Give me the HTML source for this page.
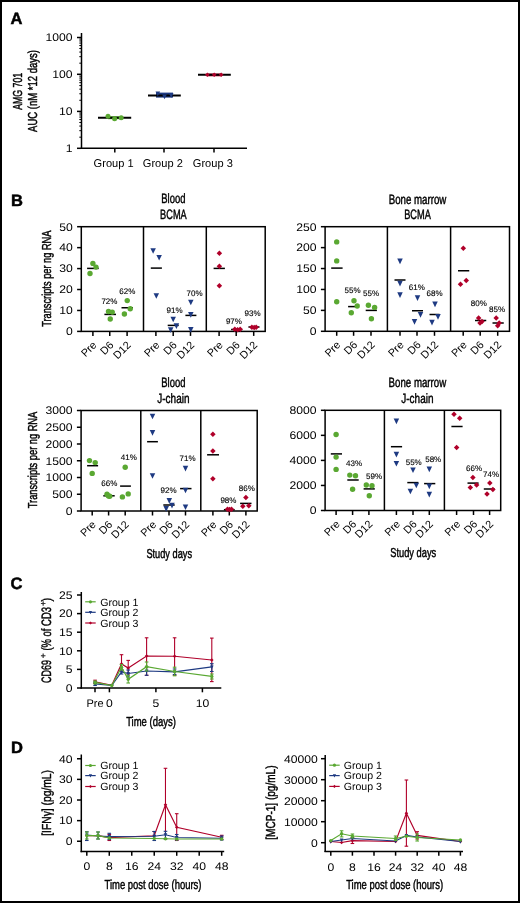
<!DOCTYPE html>
<html><head><meta charset="utf-8"><style>
html,body{margin:0;padding:0;background:#fff;}
svg{display:block;will-change:transform;}
text{font-family:"Liberation Sans", sans-serif;text-rendering:geometricPrecision;}
</style></head><body>
<svg width="520" height="903" viewBox="0 0 520 903" font-family='"Liberation Sans", sans-serif'>
<rect x="1" y="1" width="518" height="901" fill="#fff" stroke="#000" stroke-width="2"/>
<text x="10.6" y="24.2" font-size="16.5" stroke="#000" stroke-width="0.5" font-weight="bold" fill="#000">A</text>
<text x="10.9" y="205.9" font-size="16.5" stroke="#000" stroke-width="0.5" font-weight="bold" fill="#000">B</text>
<text x="10.6" y="588.8" font-size="16.5" stroke="#000" stroke-width="0.5" font-weight="bold" fill="#000">C</text>
<text x="10.9" y="752.5" font-size="16.5" stroke="#000" stroke-width="0.5" font-weight="bold" fill="#000">D</text>
<line x1="81.5" y1="33" x2="81.5" y2="149" stroke="#000" stroke-width="1.5"/>
<line x1="80.75" y1="148.3" x2="247" y2="148.3" stroke="#000" stroke-width="1.5"/>
<line x1="77" y1="37.5" x2="81.5" y2="37.5" stroke="#000" stroke-width="1.5"/>
<line x1="77" y1="74.3" x2="81.5" y2="74.3" stroke="#000" stroke-width="1.5"/>
<line x1="77" y1="111.4" x2="81.5" y2="111.4" stroke="#000" stroke-width="1.5"/>
<line x1="77" y1="148.3" x2="81.5" y2="148.3" stroke="#000" stroke-width="1.5"/>
<line x1="79.3" y1="137.18" x2="81.5" y2="137.18" stroke="#000" stroke-width="1"/>
<line x1="79.3" y1="130.68" x2="81.5" y2="130.68" stroke="#000" stroke-width="1"/>
<line x1="79.3" y1="126.06" x2="81.5" y2="126.06" stroke="#000" stroke-width="1"/>
<line x1="79.3" y1="122.48" x2="81.5" y2="122.48" stroke="#000" stroke-width="1"/>
<line x1="79.3" y1="119.56" x2="81.5" y2="119.56" stroke="#000" stroke-width="1"/>
<line x1="79.3" y1="117.09" x2="81.5" y2="117.09" stroke="#000" stroke-width="1"/>
<line x1="79.3" y1="114.95" x2="81.5" y2="114.95" stroke="#000" stroke-width="1"/>
<line x1="79.3" y1="113.06" x2="81.5" y2="113.06" stroke="#000" stroke-width="1"/>
<line x1="79.3" y1="100.28" x2="81.5" y2="100.28" stroke="#000" stroke-width="1"/>
<line x1="79.3" y1="93.78" x2="81.5" y2="93.78" stroke="#000" stroke-width="1"/>
<line x1="79.3" y1="89.16" x2="81.5" y2="89.16" stroke="#000" stroke-width="1"/>
<line x1="79.3" y1="85.58" x2="81.5" y2="85.58" stroke="#000" stroke-width="1"/>
<line x1="79.3" y1="82.66" x2="81.5" y2="82.66" stroke="#000" stroke-width="1"/>
<line x1="79.3" y1="80.19" x2="81.5" y2="80.19" stroke="#000" stroke-width="1"/>
<line x1="79.3" y1="78.05" x2="81.5" y2="78.05" stroke="#000" stroke-width="1"/>
<line x1="79.3" y1="76.16" x2="81.5" y2="76.16" stroke="#000" stroke-width="1"/>
<line x1="79.3" y1="63.18" x2="81.5" y2="63.18" stroke="#000" stroke-width="1"/>
<line x1="79.3" y1="56.68" x2="81.5" y2="56.68" stroke="#000" stroke-width="1"/>
<line x1="79.3" y1="52.06" x2="81.5" y2="52.06" stroke="#000" stroke-width="1"/>
<line x1="79.3" y1="48.48" x2="81.5" y2="48.48" stroke="#000" stroke-width="1"/>
<line x1="79.3" y1="45.56" x2="81.5" y2="45.56" stroke="#000" stroke-width="1"/>
<line x1="79.3" y1="43.09" x2="81.5" y2="43.09" stroke="#000" stroke-width="1"/>
<line x1="79.3" y1="40.95" x2="81.5" y2="40.95" stroke="#000" stroke-width="1"/>
<line x1="79.3" y1="39.06" x2="81.5" y2="39.06" stroke="#000" stroke-width="1"/>
<text transform="translate(72.5,41.3) scale(1.105,1)" font-size="11" text-anchor="end" fill="#000">1000</text>
<text transform="translate(72.5,78.1) scale(1.105,1)" font-size="11" text-anchor="end" fill="#000">100</text>
<text transform="translate(72.5,115.2) scale(1.105,1)" font-size="11" text-anchor="end" fill="#000">10</text>
<text transform="translate(72.5,152.1) scale(1.105,1)" font-size="11" text-anchor="end" fill="#000">1</text>
<line x1="114.8" y1="148.3" x2="114.8" y2="152.5" stroke="#000" stroke-width="1.5"/>
<text x="113.6" y="166.7" font-size="11.3" text-anchor="middle" textLength="40" lengthAdjust="spacingAndGlyphs" fill="#000">Group 1</text>
<line x1="164" y1="148.3" x2="164" y2="152.5" stroke="#000" stroke-width="1.5"/>
<text x="162.8" y="166.7" font-size="11.3" text-anchor="middle" textLength="40" lengthAdjust="spacingAndGlyphs" fill="#000">Group 2</text>
<line x1="214" y1="148.3" x2="214" y2="152.5" stroke="#000" stroke-width="1.5"/>
<text x="212.8" y="166.7" font-size="11.3" text-anchor="middle" textLength="40" lengthAdjust="spacingAndGlyphs" fill="#000">Group 3</text>
<rect x="108" y="116.2" width="13.2" height="3" fill="#5aa832"/>
<line x1="98" y1="117.7" x2="131.2" y2="117.7" stroke="#000" stroke-width="2"/>
<circle cx="108" cy="116.2" r="2.5" fill="#5aa832"/>
<circle cx="114.6" cy="118.7" r="2.5" fill="#5aa832"/>
<circle cx="121.2" cy="117.7" r="2.5" fill="#5aa832"/>
<rect x="156" y="92.6" width="17" height="5" fill="#1e3a82"/>
<line x1="148" y1="95.4" x2="180.8" y2="95.4" stroke="#000" stroke-width="2"/>
<path d="M155.5,91.46H160.1L157.8,96.17Z" fill="#1e3a82"/>
<path d="M162.2,94.56H166.8L164.5,99.28Z" fill="#1e3a82"/>
<path d="M168.9,93.36H173.5L171.2,98.08Z" fill="#1e3a82"/>
<rect x="207.3" y="73.5" width="14" height="2.8" fill="#b0002a"/>
<line x1="198" y1="74.8" x2="230.8" y2="74.8" stroke="#000" stroke-width="2"/>
<path d="M207.3,72.5L209.6,74.8L207.3,77.1L205,74.8Z" fill="#b0002a"/>
<path d="M214.2,72.5L216.5,74.8L214.2,77.1L211.9,74.8Z" fill="#b0002a"/>
<path d="M221.2,72.5L223.5,74.8L221.2,77.1L218.9,74.8Z" fill="#b0002a"/>
<text transform="translate(21.6,91.3) rotate(-90)" font-size="13" text-anchor="middle" stroke="#000" stroke-width="0.45" textLength="37" lengthAdjust="spacingAndGlyphs" fill="#000">AMG 701</text>
<text transform="translate(37.1,91) rotate(-90)" font-size="13" text-anchor="middle" stroke="#000" stroke-width="0.45" textLength="81.9" lengthAdjust="spacingAndGlyphs" fill="#000">AUC (nM *12 days)</text>
<rect x="81.3" y="226.7" width="183.9" height="104.7" fill="none" stroke="#000" stroke-width="1.5"/>
<line x1="143.5" y1="226.7" x2="143.5" y2="331.4" stroke="#000" stroke-width="1.5"/>
<line x1="206.3" y1="226.7" x2="206.3" y2="331.4" stroke="#000" stroke-width="1.5"/>
<line x1="77.1" y1="226.7" x2="81.3" y2="226.7" stroke="#000" stroke-width="1.5"/>
<line x1="77.1" y1="247.64" x2="81.3" y2="247.64" stroke="#000" stroke-width="1.5"/>
<line x1="77.1" y1="268.58" x2="81.3" y2="268.58" stroke="#000" stroke-width="1.5"/>
<line x1="77.1" y1="289.52" x2="81.3" y2="289.52" stroke="#000" stroke-width="1.5"/>
<line x1="77.1" y1="310.46" x2="81.3" y2="310.46" stroke="#000" stroke-width="1.5"/>
<line x1="77.1" y1="331.4" x2="81.3" y2="331.4" stroke="#000" stroke-width="1.5"/>
<text transform="translate(72.7,230.5) scale(1.105,1)" font-size="11" text-anchor="end" fill="#000">50</text>
<text transform="translate(72.7,251.44) scale(1.105,1)" font-size="11" text-anchor="end" fill="#000">40</text>
<text transform="translate(72.7,272.38) scale(1.105,1)" font-size="11" text-anchor="end" fill="#000">30</text>
<text transform="translate(72.7,293.32) scale(1.105,1)" font-size="11" text-anchor="end" fill="#000">20</text>
<text transform="translate(72.7,314.26) scale(1.105,1)" font-size="11" text-anchor="end" fill="#000">10</text>
<text transform="translate(72.7,335.2) scale(1.105,1)" font-size="11" text-anchor="end" fill="#000">0</text>
<line x1="92.9" y1="331.4" x2="92.9" y2="335.9" stroke="#000" stroke-width="1.5"/>
<text transform="translate(97.3,345.7) rotate(-45)" font-size="10.8" text-anchor="end" fill="#000">Pre</text>
<line x1="109.75" y1="331.4" x2="109.75" y2="335.9" stroke="#000" stroke-width="1.5"/>
<text transform="translate(114.15,345.7) rotate(-45)" font-size="10.8" text-anchor="end" fill="#000">D6</text>
<line x1="127.1" y1="331.4" x2="127.1" y2="335.9" stroke="#000" stroke-width="1.5"/>
<text transform="translate(131.5,345.7) rotate(-45)" font-size="10.8" text-anchor="end" fill="#000">D12</text>
<line x1="155.9" y1="331.4" x2="155.9" y2="335.9" stroke="#000" stroke-width="1.5"/>
<text transform="translate(160.3,345.7) rotate(-45)" font-size="10.8" text-anchor="end" fill="#000">Pre</text>
<line x1="173.2" y1="331.4" x2="173.2" y2="335.9" stroke="#000" stroke-width="1.5"/>
<text transform="translate(177.6,345.7) rotate(-45)" font-size="10.8" text-anchor="end" fill="#000">D6</text>
<line x1="190.5" y1="331.4" x2="190.5" y2="335.9" stroke="#000" stroke-width="1.5"/>
<text transform="translate(194.9,345.7) rotate(-45)" font-size="10.8" text-anchor="end" fill="#000">D12</text>
<line x1="219.1" y1="331.4" x2="219.1" y2="335.9" stroke="#000" stroke-width="1.5"/>
<text transform="translate(223.5,345.7) rotate(-45)" font-size="10.8" text-anchor="end" fill="#000">Pre</text>
<line x1="236.2" y1="331.4" x2="236.2" y2="335.9" stroke="#000" stroke-width="1.5"/>
<text transform="translate(240.6,345.7) rotate(-45)" font-size="10.8" text-anchor="end" fill="#000">D6</text>
<line x1="253.7" y1="331.4" x2="253.7" y2="335.9" stroke="#000" stroke-width="1.5"/>
<text transform="translate(258.1,345.7) rotate(-45)" font-size="10.8" text-anchor="end" fill="#000">D12</text>
<line x1="87.1" y1="268.4" x2="98.7" y2="268.4" stroke="#000" stroke-width="1.5"/>
<circle cx="92.9" cy="263.4" r="2.7" fill="#5aa832"/>
<circle cx="96" cy="267.1" r="2.7" fill="#5aa832"/>
<circle cx="90" cy="273.5" r="2.7" fill="#5aa832"/>
<line x1="104.4" y1="314.4" x2="116" y2="314.4" stroke="#000" stroke-width="1.5"/>
<circle cx="108.5" cy="311.5" r="2.7" fill="#5aa832"/>
<circle cx="112.25" cy="312.1" r="2.7" fill="#5aa832"/>
<circle cx="110.25" cy="319" r="2.7" fill="#5aa832"/>
<line x1="121.5" y1="307.75" x2="133" y2="307.75" stroke="#000" stroke-width="1.5"/>
<circle cx="127.25" cy="300.6" r="2.7" fill="#5aa832"/>
<circle cx="130.25" cy="308.75" r="2.7" fill="#5aa832"/>
<circle cx="124.4" cy="314" r="2.7" fill="#5aa832"/>
<line x1="150.8" y1="268.1" x2="161.9" y2="268.1" stroke="#000" stroke-width="1.5"/>
<path d="M150.35,248.2H155.85L153.1,253.84Z" fill="#1e3a82"/>
<path d="M156.35,254.9H161.85L159.1,260.54Z" fill="#1e3a82"/>
<path d="M153.55,293.2H159.05L156.3,298.84Z" fill="#1e3a82"/>
<line x1="167.7" y1="325.4" x2="178.7" y2="325.4" stroke="#000" stroke-width="1.5"/>
<path d="M170.45,316.7H175.95L173.2,322.34Z" fill="#1e3a82"/>
<path d="M173.65,323.3H179.15L176.4,328.94Z" fill="#1e3a82"/>
<path d="M167.95,327.3H173.45L170.7,332.94Z" fill="#1e3a82"/>
<line x1="185.4" y1="315.4" x2="196.4" y2="315.4" stroke="#000" stroke-width="1.5"/>
<path d="M188.05,299.7H193.55L190.8,305.34Z" fill="#1e3a82"/>
<path d="M188.05,312.1H193.55L190.8,317.74Z" fill="#1e3a82"/>
<path d="M188.05,327.1H193.55L190.8,332.74Z" fill="#1e3a82"/>
<line x1="213.6" y1="268.4" x2="224.9" y2="268.4" stroke="#000" stroke-width="1.5"/>
<path d="M219.4,250.45L222.15,253.2L219.4,255.95L216.65,253.2Z" fill="#b0002a"/>
<path d="M219.4,263.55L222.15,266.3L219.4,269.05L216.65,266.3Z" fill="#b0002a"/>
<path d="M219.4,282.95L222.15,285.7L219.4,288.45L216.65,285.7Z" fill="#b0002a"/>
<line x1="231.1" y1="329.5" x2="242.2" y2="329.5" stroke="#000" stroke-width="1.5"/>
<path d="M234.8,326.45L237.55,329.2L234.8,331.95L232.05,329.2Z" fill="#b0002a"/>
<path d="M237.6,327.05L240.35,329.8L237.6,332.55L234.85,329.8Z" fill="#b0002a"/>
<path d="M240.2,326.55L242.95,329.3L240.2,332.05L237.45,329.3Z" fill="#b0002a"/>
<line x1="248.4" y1="327" x2="259.5" y2="327" stroke="#000" stroke-width="1.5"/>
<path d="M251.9,324.45L254.65,327.2L251.9,329.95L249.15,327.2Z" fill="#b0002a"/>
<path d="M254.2,324.85L256.95,327.6L254.2,330.35L251.45,327.6Z" fill="#b0002a"/>
<path d="M256.2,324.45L258.95,327.2L256.2,329.95L253.45,327.2Z" fill="#b0002a"/>
<text x="109.4" y="304.4" font-size="8" text-anchor="middle" stroke="#000" stroke-width="0.12" fill="#000">72%</text>
<text x="127.25" y="294.15" font-size="8" text-anchor="middle" stroke="#000" stroke-width="0.12" fill="#000">62%</text>
<text x="174.6" y="312.8" font-size="8" text-anchor="middle" stroke="#000" stroke-width="0.12" fill="#000">91%</text>
<text x="194.6" y="296.4" font-size="8" text-anchor="middle" stroke="#000" stroke-width="0.12" fill="#000">70%</text>
<text x="233.9" y="323.9" font-size="8" text-anchor="middle" stroke="#000" stroke-width="0.12" fill="#000">97%</text>
<text x="252.6" y="315.6" font-size="8" text-anchor="middle" stroke="#000" stroke-width="0.12" fill="#000">93%</text>
<text x="173.4" y="203.3" font-size="13.5" text-anchor="middle" stroke="#000" stroke-width="0.45" textLength="24.2" lengthAdjust="spacingAndGlyphs" fill="#000">Blood</text>
<text x="173.4" y="218.6" font-size="13.5" text-anchor="middle" stroke="#000" stroke-width="0.45" textLength="26.6" lengthAdjust="spacingAndGlyphs" fill="#000">BCMA</text>
<rect x="325.1" y="226.7" width="184.4" height="104.6" fill="none" stroke="#000" stroke-width="1.5"/>
<line x1="387.4" y1="226.7" x2="387.4" y2="331.3" stroke="#000" stroke-width="1.5"/>
<line x1="450.6" y1="226.7" x2="450.6" y2="331.3" stroke="#000" stroke-width="1.5"/>
<line x1="320.9" y1="226.7" x2="325.1" y2="226.7" stroke="#000" stroke-width="1.5"/>
<line x1="320.9" y1="247.62" x2="325.1" y2="247.62" stroke="#000" stroke-width="1.5"/>
<line x1="320.9" y1="268.54" x2="325.1" y2="268.54" stroke="#000" stroke-width="1.5"/>
<line x1="320.9" y1="289.46" x2="325.1" y2="289.46" stroke="#000" stroke-width="1.5"/>
<line x1="320.9" y1="310.38" x2="325.1" y2="310.38" stroke="#000" stroke-width="1.5"/>
<line x1="320.9" y1="331.3" x2="325.1" y2="331.3" stroke="#000" stroke-width="1.5"/>
<text transform="translate(316.5,230.5) scale(1.105,1)" font-size="11" text-anchor="end" fill="#000">250</text>
<text transform="translate(316.5,251.42) scale(1.105,1)" font-size="11" text-anchor="end" fill="#000">200</text>
<text transform="translate(316.5,272.34) scale(1.105,1)" font-size="11" text-anchor="end" fill="#000">150</text>
<text transform="translate(316.5,293.26) scale(1.105,1)" font-size="11" text-anchor="end" fill="#000">100</text>
<text transform="translate(316.5,314.18) scale(1.105,1)" font-size="11" text-anchor="end" fill="#000">50</text>
<text transform="translate(316.5,335.1) scale(1.105,1)" font-size="11" text-anchor="end" fill="#000">0</text>
<line x1="336.7" y1="331.3" x2="336.7" y2="335.8" stroke="#000" stroke-width="1.5"/>
<text transform="translate(341.1,345.6) rotate(-45)" font-size="10.8" text-anchor="end" fill="#000">Pre</text>
<line x1="353.6" y1="331.3" x2="353.6" y2="335.8" stroke="#000" stroke-width="1.5"/>
<text transform="translate(358,345.6) rotate(-45)" font-size="10.8" text-anchor="end" fill="#000">D6</text>
<line x1="371" y1="331.3" x2="371" y2="335.8" stroke="#000" stroke-width="1.5"/>
<text transform="translate(375.4,345.6) rotate(-45)" font-size="10.8" text-anchor="end" fill="#000">D12</text>
<line x1="400" y1="331.3" x2="400" y2="335.8" stroke="#000" stroke-width="1.5"/>
<text transform="translate(404.4,345.6) rotate(-45)" font-size="10.8" text-anchor="end" fill="#000">Pre</text>
<line x1="417" y1="331.3" x2="417" y2="335.8" stroke="#000" stroke-width="1.5"/>
<text transform="translate(421.4,345.6) rotate(-45)" font-size="10.8" text-anchor="end" fill="#000">D6</text>
<line x1="434.5" y1="331.3" x2="434.5" y2="335.8" stroke="#000" stroke-width="1.5"/>
<text transform="translate(438.9,345.6) rotate(-45)" font-size="10.8" text-anchor="end" fill="#000">D12</text>
<line x1="463.2" y1="331.3" x2="463.2" y2="335.8" stroke="#000" stroke-width="1.5"/>
<text transform="translate(467.6,345.6) rotate(-45)" font-size="10.8" text-anchor="end" fill="#000">Pre</text>
<line x1="480.2" y1="331.3" x2="480.2" y2="335.8" stroke="#000" stroke-width="1.5"/>
<text transform="translate(484.6,345.6) rotate(-45)" font-size="10.8" text-anchor="end" fill="#000">D6</text>
<line x1="497.7" y1="331.3" x2="497.7" y2="335.8" stroke="#000" stroke-width="1.5"/>
<text transform="translate(502.1,345.6) rotate(-45)" font-size="10.8" text-anchor="end" fill="#000">D12</text>
<line x1="331.2" y1="268.1" x2="342.6" y2="268.1" stroke="#000" stroke-width="1.5"/>
<circle cx="336.7" cy="241.9" r="2.7" fill="#5aa832"/>
<circle cx="336.7" cy="260.9" r="2.7" fill="#5aa832"/>
<circle cx="336.7" cy="301.7" r="2.7" fill="#5aa832"/>
<line x1="348.1" y1="306.6" x2="357.9" y2="306.6" stroke="#000" stroke-width="1.5"/>
<circle cx="354" cy="300.7" r="2.7" fill="#5aa832"/>
<circle cx="357.2" cy="306" r="2.7" fill="#5aa832"/>
<circle cx="351.3" cy="312.7" r="2.7" fill="#5aa832"/>
<line x1="365.7" y1="310.4" x2="376.9" y2="310.4" stroke="#000" stroke-width="1.5"/>
<circle cx="368.4" cy="305.3" r="2.7" fill="#5aa832"/>
<circle cx="374.6" cy="307.4" r="2.7" fill="#5aa832"/>
<circle cx="371.4" cy="318.7" r="2.7" fill="#5aa832"/>
<line x1="394.5" y1="280" x2="405.5" y2="280" stroke="#000" stroke-width="1.5"/>
<path d="M397.25,258.55H402.75L400,264.19Z" fill="#1e3a82"/>
<path d="M397.25,280.8H402.75L400,286.44Z" fill="#1e3a82"/>
<path d="M397.25,292.3H402.75L400,297.94Z" fill="#1e3a82"/>
<line x1="412" y1="310.75" x2="423" y2="310.75" stroke="#000" stroke-width="1.5"/>
<path d="M414.75,295.3H420.25L417.5,300.94Z" fill="#1e3a82"/>
<path d="M417.75,312.05H423.25L420.5,317.69Z" fill="#1e3a82"/>
<path d="M411.75,319.05H417.25L414.5,324.69Z" fill="#1e3a82"/>
<line x1="429.5" y1="314.5" x2="439.5" y2="314.5" stroke="#000" stroke-width="1.5"/>
<path d="M432.25,301.55H437.75L435,307.19Z" fill="#1e3a82"/>
<path d="M435.25,314.05H440.75L438,319.69Z" fill="#1e3a82"/>
<path d="M429.25,319.8H434.75L432,325.44Z" fill="#1e3a82"/>
<line x1="458" y1="270.75" x2="469.25" y2="270.75" stroke="#000" stroke-width="1.5"/>
<path d="M463.3,245.45L466.05,248.2L463.3,250.95L460.55,248.2Z" fill="#b0002a"/>
<path d="M466.25,277.75L469,280.5L466.25,283.25L463.5,280.5Z" fill="#b0002a"/>
<path d="M460.5,281.5L463.25,284.25L460.5,287L457.75,284.25Z" fill="#b0002a"/>
<line x1="475" y1="320.5" x2="486.25" y2="320.5" stroke="#000" stroke-width="1.5"/>
<path d="M478.6,315.25L481.35,318L478.6,320.75L475.85,318Z" fill="#b0002a"/>
<path d="M482,318.75L484.75,321.5L482,324.25L479.25,321.5Z" fill="#b0002a"/>
<path d="M480,320.25L482.75,323L480,325.75L477.25,323Z" fill="#b0002a"/>
<line x1="492.5" y1="323" x2="503.75" y2="323" stroke="#000" stroke-width="1.5"/>
<path d="M496.2,315.25L498.95,318L496.2,320.75L493.45,318Z" fill="#b0002a"/>
<path d="M499.2,320.25L501.95,323L499.2,325.75L496.45,323Z" fill="#b0002a"/>
<path d="M497.7,323.05L500.45,325.8L497.7,328.55L494.95,325.8Z" fill="#b0002a"/>
<text x="352.6" y="292.6" font-size="8" text-anchor="middle" stroke="#000" stroke-width="0.12" fill="#000">55%</text>
<text x="371" y="295.8" font-size="8" text-anchor="middle" stroke="#000" stroke-width="0.12" fill="#000">55%</text>
<text x="416.75" y="289.9" font-size="8" text-anchor="middle" stroke="#000" stroke-width="0.12" fill="#000">61%</text>
<text x="434.5" y="295.9" font-size="8" text-anchor="middle" stroke="#000" stroke-width="0.12" fill="#000">68%</text>
<text x="478.75" y="305.9" font-size="8" text-anchor="middle" stroke="#000" stroke-width="0.12" fill="#000">80%</text>
<text x="497" y="311.65" font-size="8" text-anchor="middle" stroke="#000" stroke-width="0.12" fill="#000">85%</text>
<text x="417.5" y="203.5" font-size="13.5" text-anchor="middle" stroke="#000" stroke-width="0.45" textLength="57.6" lengthAdjust="spacingAndGlyphs" fill="#000">Bone marrow</text>
<text x="417.5" y="218.8" font-size="13.5" text-anchor="middle" stroke="#000" stroke-width="0.45" textLength="26.6" lengthAdjust="spacingAndGlyphs" fill="#000">BCMA</text>
<rect x="81.1" y="410.5" width="176.1" height="100.5" fill="none" stroke="#000" stroke-width="1.5"/>
<line x1="140.8" y1="410.5" x2="140.8" y2="511" stroke="#000" stroke-width="1.5"/>
<line x1="200.8" y1="410.5" x2="200.8" y2="511" stroke="#000" stroke-width="1.5"/>
<line x1="76.9" y1="410.5" x2="81.1" y2="410.5" stroke="#000" stroke-width="1.5"/>
<line x1="76.9" y1="427.25" x2="81.1" y2="427.25" stroke="#000" stroke-width="1.5"/>
<line x1="76.9" y1="444" x2="81.1" y2="444" stroke="#000" stroke-width="1.5"/>
<line x1="76.9" y1="460.75" x2="81.1" y2="460.75" stroke="#000" stroke-width="1.5"/>
<line x1="76.9" y1="477.5" x2="81.1" y2="477.5" stroke="#000" stroke-width="1.5"/>
<line x1="76.9" y1="494.25" x2="81.1" y2="494.25" stroke="#000" stroke-width="1.5"/>
<line x1="76.9" y1="511" x2="81.1" y2="511" stroke="#000" stroke-width="1.5"/>
<text transform="translate(72.5,414.3) scale(1.105,1)" font-size="11" text-anchor="end" fill="#000">3000</text>
<text transform="translate(72.5,431.05) scale(1.105,1)" font-size="11" text-anchor="end" fill="#000">2500</text>
<text transform="translate(72.5,447.8) scale(1.105,1)" font-size="11" text-anchor="end" fill="#000">2000</text>
<text transform="translate(72.5,464.55) scale(1.105,1)" font-size="11" text-anchor="end" fill="#000">1500</text>
<text transform="translate(72.5,481.3) scale(1.105,1)" font-size="11" text-anchor="end" fill="#000">1000</text>
<text transform="translate(72.5,498.05) scale(1.105,1)" font-size="11" text-anchor="end" fill="#000">500</text>
<text transform="translate(72.5,514.8) scale(1.105,1)" font-size="11" text-anchor="end" fill="#000">0</text>
<line x1="92.2" y1="511" x2="92.2" y2="515.5" stroke="#000" stroke-width="1.5"/>
<text transform="translate(96.6,525.3) rotate(-45)" font-size="10.8" text-anchor="end" fill="#000">Pre</text>
<line x1="108.6" y1="511" x2="108.6" y2="515.5" stroke="#000" stroke-width="1.5"/>
<text transform="translate(113,525.3) rotate(-45)" font-size="10.8" text-anchor="end" fill="#000">D6</text>
<line x1="125.2" y1="511" x2="125.2" y2="515.5" stroke="#000" stroke-width="1.5"/>
<text transform="translate(129.6,525.3) rotate(-45)" font-size="10.8" text-anchor="end" fill="#000">D12</text>
<line x1="152.5" y1="511" x2="152.5" y2="515.5" stroke="#000" stroke-width="1.5"/>
<text transform="translate(156.9,525.3) rotate(-45)" font-size="10.8" text-anchor="end" fill="#000">Pre</text>
<line x1="169" y1="511" x2="169" y2="515.5" stroke="#000" stroke-width="1.5"/>
<text transform="translate(173.4,525.3) rotate(-45)" font-size="10.8" text-anchor="end" fill="#000">D6</text>
<line x1="185.5" y1="511" x2="185.5" y2="515.5" stroke="#000" stroke-width="1.5"/>
<text transform="translate(189.9,525.3) rotate(-45)" font-size="10.8" text-anchor="end" fill="#000">D12</text>
<line x1="212.9" y1="511" x2="212.9" y2="515.5" stroke="#000" stroke-width="1.5"/>
<text transform="translate(217.3,525.3) rotate(-45)" font-size="10.8" text-anchor="end" fill="#000">Pre</text>
<line x1="229.3" y1="511" x2="229.3" y2="515.5" stroke="#000" stroke-width="1.5"/>
<text transform="translate(233.7,525.3) rotate(-45)" font-size="10.8" text-anchor="end" fill="#000">D6</text>
<line x1="245.9" y1="511" x2="245.9" y2="515.5" stroke="#000" stroke-width="1.5"/>
<text transform="translate(250.3,525.3) rotate(-45)" font-size="10.8" text-anchor="end" fill="#000">D12</text>
<line x1="87.1" y1="465.7" x2="98.1" y2="465.7" stroke="#000" stroke-width="1.5"/>
<circle cx="89.5" cy="460.6" r="2.7" fill="#5aa832"/>
<circle cx="95.2" cy="462.6" r="2.7" fill="#5aa832"/>
<circle cx="92.2" cy="473.4" r="2.7" fill="#5aa832"/>
<line x1="103.3" y1="495.8" x2="114.7" y2="495.8" stroke="#000" stroke-width="1.5"/>
<circle cx="107" cy="494.2" r="2.7" fill="#5aa832"/>
<circle cx="109.7" cy="496.2" r="2.7" fill="#5aa832"/>
<circle cx="108.5" cy="496" r="2.7" fill="#5aa832"/>
<line x1="120.1" y1="486.1" x2="130.9" y2="486.1" stroke="#000" stroke-width="1.5"/>
<circle cx="125.2" cy="467.3" r="2.7" fill="#5aa832"/>
<circle cx="128.2" cy="493.9" r="2.7" fill="#5aa832"/>
<circle cx="122.4" cy="496.9" r="2.7" fill="#5aa832"/>
<line x1="147.1" y1="441.7" x2="157.9" y2="441.7" stroke="#000" stroke-width="1.5"/>
<path d="M149.75,413.7H155.25L152.5,419.34Z" fill="#1e3a82"/>
<path d="M149.75,430.1H155.25L152.5,435.74Z" fill="#1e3a82"/>
<path d="M149.75,473.2H155.25L152.5,478.84Z" fill="#1e3a82"/>
<line x1="163.3" y1="505" x2="174.7" y2="505" stroke="#000" stroke-width="1.5"/>
<path d="M166.55,498.1H172.05L169.3,503.74Z" fill="#1e3a82"/>
<path d="M169.25,502.8H174.75L172,508.44Z" fill="#1e3a82"/>
<path d="M163.45,506.1H168.95L166.2,511.74Z" fill="#1e3a82"/>
<line x1="180.1" y1="488.6" x2="191.5" y2="488.6" stroke="#000" stroke-width="1.5"/>
<path d="M182.75,465.8H188.25L185.5,471.44Z" fill="#1e3a82"/>
<path d="M182.75,487.7H188.25L185.5,493.34Z" fill="#1e3a82"/>
<path d="M182.75,504.4H188.25L185.5,510.04Z" fill="#1e3a82"/>
<line x1="207.1" y1="454.8" x2="219" y2="454.8" stroke="#000" stroke-width="1.5"/>
<path d="M212.9,431.55L215.65,434.3L212.9,437.05L210.15,434.3Z" fill="#b0002a"/>
<path d="M212.9,448.35L215.65,451.1L212.9,453.85L210.15,451.1Z" fill="#b0002a"/>
<path d="M212.9,475.95L215.65,478.7L212.9,481.45L210.15,478.7Z" fill="#b0002a"/>
<line x1="223.9" y1="509.7" x2="234.7" y2="509.7" stroke="#000" stroke-width="1.5"/>
<path d="M227.5,506.45L230.25,509.2L227.5,511.95L224.75,509.2Z" fill="#b0002a"/>
<path d="M229.5,506.85L232.25,509.6L229.5,512.35L226.75,509.6Z" fill="#b0002a"/>
<path d="M231.5,506.45L234.25,509.2L231.5,511.95L228.75,509.2Z" fill="#b0002a"/>
<line x1="240.1" y1="503.4" x2="251.5" y2="503.4" stroke="#000" stroke-width="1.5"/>
<path d="M245.9,494.85L248.65,497.6L245.9,500.35L243.15,497.6Z" fill="#b0002a"/>
<path d="M242.8,503.55L245.55,506.3L242.8,509.05L240.05,506.3Z" fill="#b0002a"/>
<path d="M248.8,502.95L251.55,505.7L248.8,508.45L246.05,505.7Z" fill="#b0002a"/>
<text x="109.3" y="485.9" font-size="8" text-anchor="middle" stroke="#000" stroke-width="0.12" fill="#000">66%</text>
<text x="128.8" y="460.3" font-size="8" text-anchor="middle" stroke="#000" stroke-width="0.12" fill="#000">41%</text>
<text x="168.6" y="493.3" font-size="8" text-anchor="middle" stroke="#000" stroke-width="0.12" fill="#000">92%</text>
<text x="187.5" y="461.2" font-size="8" text-anchor="middle" stroke="#000" stroke-width="0.12" fill="#000">71%</text>
<text x="228.4" y="503.4" font-size="8" text-anchor="middle" stroke="#000" stroke-width="0.12" fill="#000">98%</text>
<text x="246.8" y="490.8" font-size="8" text-anchor="middle" stroke="#000" stroke-width="0.12" fill="#000">86%</text>
<text x="173.4" y="387.3" font-size="13.5" text-anchor="middle" stroke="#000" stroke-width="0.45" textLength="24.2" lengthAdjust="spacingAndGlyphs" fill="#000">Blood</text>
<text x="173.4" y="402.6" font-size="13.5" text-anchor="middle" stroke="#000" stroke-width="0.45" textLength="32.2" lengthAdjust="spacingAndGlyphs" fill="#000">J-chain</text>
<rect x="325.1" y="410.3" width="175.6" height="100.2" fill="none" stroke="#000" stroke-width="1.5"/>
<line x1="384.4" y1="410.3" x2="384.4" y2="510.5" stroke="#000" stroke-width="1.5"/>
<line x1="444.4" y1="410.3" x2="444.4" y2="510.5" stroke="#000" stroke-width="1.5"/>
<line x1="320.9" y1="410.3" x2="325.1" y2="410.3" stroke="#000" stroke-width="1.5"/>
<line x1="320.9" y1="435.35" x2="325.1" y2="435.35" stroke="#000" stroke-width="1.5"/>
<line x1="320.9" y1="460.4" x2="325.1" y2="460.4" stroke="#000" stroke-width="1.5"/>
<line x1="320.9" y1="485.45" x2="325.1" y2="485.45" stroke="#000" stroke-width="1.5"/>
<line x1="320.9" y1="510.5" x2="325.1" y2="510.5" stroke="#000" stroke-width="1.5"/>
<text transform="translate(316.5,414.1) scale(1.105,1)" font-size="11" text-anchor="end" fill="#000">8000</text>
<text transform="translate(316.5,439.15) scale(1.105,1)" font-size="11" text-anchor="end" fill="#000">6000</text>
<text transform="translate(316.5,464.2) scale(1.105,1)" font-size="11" text-anchor="end" fill="#000">4000</text>
<text transform="translate(316.5,489.25) scale(1.105,1)" font-size="11" text-anchor="end" fill="#000">2000</text>
<text transform="translate(316.5,514.3) scale(1.105,1)" font-size="11" text-anchor="end" fill="#000">0</text>
<line x1="336.1" y1="510.5" x2="336.1" y2="515" stroke="#000" stroke-width="1.5"/>
<text transform="translate(340.5,524.8) rotate(-45)" font-size="10.8" text-anchor="end" fill="#000">Pre</text>
<line x1="352.6" y1="510.5" x2="352.6" y2="515" stroke="#000" stroke-width="1.5"/>
<text transform="translate(357,524.8) rotate(-45)" font-size="10.8" text-anchor="end" fill="#000">D6</text>
<line x1="368.9" y1="510.5" x2="368.9" y2="515" stroke="#000" stroke-width="1.5"/>
<text transform="translate(373.3,524.8) rotate(-45)" font-size="10.8" text-anchor="end" fill="#000">D12</text>
<line x1="396.4" y1="510.5" x2="396.4" y2="515" stroke="#000" stroke-width="1.5"/>
<text transform="translate(400.8,524.8) rotate(-45)" font-size="10.8" text-anchor="end" fill="#000">Pre</text>
<line x1="413" y1="510.5" x2="413" y2="515" stroke="#000" stroke-width="1.5"/>
<text transform="translate(417.4,524.8) rotate(-45)" font-size="10.8" text-anchor="end" fill="#000">D6</text>
<line x1="429.3" y1="510.5" x2="429.3" y2="515" stroke="#000" stroke-width="1.5"/>
<text transform="translate(433.7,524.8) rotate(-45)" font-size="10.8" text-anchor="end" fill="#000">D12</text>
<line x1="456.6" y1="510.5" x2="456.6" y2="515" stroke="#000" stroke-width="1.5"/>
<text transform="translate(461,524.8) rotate(-45)" font-size="10.8" text-anchor="end" fill="#000">Pre</text>
<line x1="473.5" y1="510.5" x2="473.5" y2="515" stroke="#000" stroke-width="1.5"/>
<text transform="translate(477.9,524.8) rotate(-45)" font-size="10.8" text-anchor="end" fill="#000">D6</text>
<line x1="489.6" y1="510.5" x2="489.6" y2="515" stroke="#000" stroke-width="1.5"/>
<text transform="translate(494,524.8) rotate(-45)" font-size="10.8" text-anchor="end" fill="#000">D12</text>
<line x1="330.8" y1="453.9" x2="342" y2="453.9" stroke="#000" stroke-width="1.5"/>
<circle cx="336.1" cy="434.5" r="2.7" fill="#5aa832"/>
<circle cx="336.1" cy="457.1" r="2.7" fill="#5aa832"/>
<circle cx="336.1" cy="469.4" r="2.7" fill="#5aa832"/>
<line x1="347.3" y1="480" x2="358.7" y2="480" stroke="#000" stroke-width="1.5"/>
<circle cx="349.8" cy="475.1" r="2.7" fill="#5aa832"/>
<circle cx="355.5" cy="475.7" r="2.7" fill="#5aa832"/>
<circle cx="352.6" cy="489.3" r="2.7" fill="#5aa832"/>
<line x1="363.6" y1="488.9" x2="374.8" y2="488.9" stroke="#000" stroke-width="1.5"/>
<circle cx="366.3" cy="485" r="2.7" fill="#5aa832"/>
<circle cx="372" cy="485.7" r="2.7" fill="#5aa832"/>
<circle cx="369.3" cy="495.8" r="2.7" fill="#5aa832"/>
<line x1="390.9" y1="446.7" x2="402.1" y2="446.7" stroke="#000" stroke-width="1.5"/>
<path d="M393.65,418.6H399.15L396.4,424.24Z" fill="#1e3a82"/>
<path d="M393.65,451.8H399.15L396.4,457.44Z" fill="#1e3a82"/>
<path d="M393.65,460.9H399.15L396.4,466.54Z" fill="#1e3a82"/>
<line x1="407.3" y1="482.6" x2="418.4" y2="482.6" stroke="#000" stroke-width="1.5"/>
<path d="M410.25,467.4H415.75L413,473.04Z" fill="#1e3a82"/>
<path d="M413.55,482.7H419.05L416.3,488.34Z" fill="#1e3a82"/>
<path d="M407.65,488.7H413.15L410.4,494.34Z" fill="#1e3a82"/>
<line x1="424.1" y1="483.6" x2="435.3" y2="483.6" stroke="#000" stroke-width="1.5"/>
<path d="M426.55,466.6H432.05L429.3,472.24Z" fill="#1e3a82"/>
<path d="M426.55,483.5H432.05L429.3,489.14Z" fill="#1e3a82"/>
<path d="M426.55,491.8H432.05L429.3,497.44Z" fill="#1e3a82"/>
<line x1="451.4" y1="426.5" x2="462.6" y2="426.5" stroke="#000" stroke-width="1.5"/>
<path d="M454,411.55L456.75,414.3L454,417.05L451.25,414.3Z" fill="#b0002a"/>
<path d="M459.7,415.45L462.45,418.2L459.7,420.95L456.95,418.2Z" fill="#b0002a"/>
<path d="M456.6,444.75L459.35,447.5L456.6,450.25L453.85,447.5Z" fill="#b0002a"/>
<line x1="467.5" y1="483.1" x2="478.6" y2="483.1" stroke="#000" stroke-width="1.5"/>
<path d="M472.9,474.65L475.65,477.4L472.9,480.15L470.15,477.4Z" fill="#b0002a"/>
<path d="M476.6,482.15L479.35,484.9L476.6,487.65L473.85,484.9Z" fill="#b0002a"/>
<path d="M470.3,484.75L473.05,487.5L470.3,490.25L467.55,487.5Z" fill="#b0002a"/>
<line x1="483.8" y1="489" x2="494.7" y2="489" stroke="#000" stroke-width="1.5"/>
<path d="M489.8,480.35L492.55,483.1L489.8,485.85L487.05,483.1Z" fill="#b0002a"/>
<path d="M492.9,486.85L495.65,489.6L492.9,492.35L490.15,489.6Z" fill="#b0002a"/>
<path d="M487,491.25L489.75,494L487,496.75L484.25,494Z" fill="#b0002a"/>
<text x="354" y="466.4" font-size="8" text-anchor="middle" stroke="#000" stroke-width="0.12" fill="#000">43%</text>
<text x="374.1" y="478.7" font-size="8" text-anchor="middle" stroke="#000" stroke-width="0.12" fill="#000">59%</text>
<text x="413.7" y="465.3" font-size="8" text-anchor="middle" stroke="#000" stroke-width="0.12" fill="#000">55%</text>
<text x="433.2" y="461.9" font-size="8" text-anchor="middle" stroke="#000" stroke-width="0.12" fill="#000">58%</text>
<text x="474" y="470.5" font-size="8" text-anchor="middle" stroke="#000" stroke-width="0.12" fill="#000">66%</text>
<text x="491.1" y="477" font-size="8" text-anchor="middle" stroke="#000" stroke-width="0.12" fill="#000">74%</text>
<text x="417.4" y="387.3" font-size="13.5" text-anchor="middle" stroke="#000" stroke-width="0.45" textLength="57.6" lengthAdjust="spacingAndGlyphs" fill="#000">Bone marrow</text>
<text x="417.4" y="402.6" font-size="13.5" text-anchor="middle" stroke="#000" stroke-width="0.45" textLength="32.2" lengthAdjust="spacingAndGlyphs" fill="#000">J-chain</text>
<text transform="translate(50.6,278.7) rotate(-90)" font-size="13" text-anchor="middle" stroke="#000" stroke-width="0.45" textLength="96.3" lengthAdjust="spacingAndGlyphs" fill="#000">Transcripts per ng RNA</text>
<text transform="translate(37,460) rotate(-90)" font-size="13" text-anchor="middle" stroke="#000" stroke-width="0.45" textLength="96.5" lengthAdjust="spacingAndGlyphs" fill="#000">Transcripts per ng RNA</text>
<text x="169.2" y="557.5" font-size="13" text-anchor="middle" stroke="#000" stroke-width="0.45" textLength="45.6" lengthAdjust="spacingAndGlyphs" fill="#000">Study days</text>
<text x="413.2" y="557.2" font-size="13" text-anchor="middle" stroke="#000" stroke-width="0.45" textLength="46" lengthAdjust="spacingAndGlyphs" fill="#000">Study days</text>
<line x1="81.3" y1="592" x2="81.3" y2="688.7" stroke="#000" stroke-width="1.5"/>
<line x1="80.55" y1="688" x2="221.3" y2="688" stroke="#000" stroke-width="1.5"/>
<text transform="translate(72.5,691.8) scale(1.105,1)" font-size="11" text-anchor="end" fill="#000">0</text>
<text transform="translate(72.5,673.2) scale(1.105,1)" font-size="11" text-anchor="end" fill="#000">5</text>
<text transform="translate(72.5,654.6) scale(1.105,1)" font-size="11" text-anchor="end" fill="#000">10</text>
<text transform="translate(72.5,636) scale(1.105,1)" font-size="11" text-anchor="end" fill="#000">15</text>
<text transform="translate(72.5,617.4) scale(1.105,1)" font-size="11" text-anchor="end" fill="#000">20</text>
<text transform="translate(72.5,598.8) scale(1.105,1)" font-size="11" text-anchor="end" fill="#000">25</text>
<line x1="77" y1="688" x2="81.3" y2="688" stroke="#000" stroke-width="1.5"/>
<line x1="77" y1="669.4" x2="81.3" y2="669.4" stroke="#000" stroke-width="1.5"/>
<line x1="77" y1="650.8" x2="81.3" y2="650.8" stroke="#000" stroke-width="1.5"/>
<line x1="77" y1="632.2" x2="81.3" y2="632.2" stroke="#000" stroke-width="1.5"/>
<line x1="77" y1="613.6" x2="81.3" y2="613.6" stroke="#000" stroke-width="1.5"/>
<line x1="77" y1="595" x2="81.3" y2="595" stroke="#000" stroke-width="1.5"/>
<line x1="95" y1="688" x2="95" y2="692.3" stroke="#000" stroke-width="1.5"/>
<text x="95" y="706.7" font-size="11" text-anchor="middle" fill="#000">Pre</text>
<line x1="109.4" y1="688" x2="109.4" y2="692.3" stroke="#000" stroke-width="1.5"/>
<text transform="translate(109.4,706.7) scale(1.105,1)" font-size="11" text-anchor="middle" fill="#000">0</text>
<line x1="155.9" y1="688" x2="155.9" y2="692.3" stroke="#000" stroke-width="1.5"/>
<text transform="translate(155.9,706.7) scale(1.105,1)" font-size="11" text-anchor="middle" fill="#000">5</text>
<line x1="202.4" y1="688" x2="202.4" y2="692.3" stroke="#000" stroke-width="1.5"/>
<text transform="translate(202.4,706.7) scale(1.105,1)" font-size="11" text-anchor="middle" fill="#000">10</text>
<text x="151" y="725.6" font-size="13" text-anchor="middle" stroke="#000" stroke-width="0.45" textLength="49.7" lengthAdjust="spacingAndGlyphs" fill="#000">Time (days)</text>
<g transform="translate(50.9,0) rotate(-90)" font-size="13.6" fill="#000" stroke="#000" stroke-width="0.45"><text x="-683" y="0" textLength="23" lengthAdjust="spacingAndGlyphs">CD69</text><text x="-658.2" y="-4.6" font-size="8.6" stroke-width="0.25">+</text><text x="-650.6" y="0" textLength="43.6" lengthAdjust="spacingAndGlyphs">(% of CD3</text><text x="-605.9" y="-4.6" font-size="8.6" stroke-width="0.25">+</text><text x="-601.6" y="0" textLength="3.8" lengthAdjust="spacingAndGlyphs">)</text></g>
<polyline points="95.1,681.9 111.8,685.2 121.5,663.9 128.2,668.1 146.6,656 174.6,656.3 211.8,660" fill="none" stroke="#b0002a" stroke-width="1.15"/>
<line x1="95.1" y1="680.2" x2="95.1" y2="683.5" stroke="#b0002a" stroke-width="1.1"/>
<line x1="93.3" y1="680.2" x2="96.9" y2="680.2" stroke="#b0002a" stroke-width="1.1"/>
<line x1="93.3" y1="683.5" x2="96.9" y2="683.5" stroke="#b0002a" stroke-width="1.1"/>
<line x1="121.5" y1="654.7" x2="121.5" y2="671" stroke="#b0002a" stroke-width="1.1"/>
<line x1="119.7" y1="654.7" x2="123.3" y2="654.7" stroke="#b0002a" stroke-width="1.1"/>
<line x1="119.7" y1="671" x2="123.3" y2="671" stroke="#b0002a" stroke-width="1.1"/>
<line x1="128.2" y1="660.4" x2="128.2" y2="674" stroke="#b0002a" stroke-width="1.1"/>
<line x1="126.4" y1="660.4" x2="130" y2="660.4" stroke="#b0002a" stroke-width="1.1"/>
<line x1="126.4" y1="674" x2="130" y2="674" stroke="#b0002a" stroke-width="1.1"/>
<line x1="146.6" y1="637.8" x2="146.6" y2="675.3" stroke="#b0002a" stroke-width="1.1"/>
<line x1="144.8" y1="637.8" x2="148.4" y2="637.8" stroke="#b0002a" stroke-width="1.1"/>
<line x1="144.8" y1="675.3" x2="148.4" y2="675.3" stroke="#b0002a" stroke-width="1.1"/>
<line x1="174.6" y1="637.8" x2="174.6" y2="675.3" stroke="#b0002a" stroke-width="1.1"/>
<line x1="172.8" y1="637.8" x2="176.4" y2="637.8" stroke="#b0002a" stroke-width="1.1"/>
<line x1="172.8" y1="675.3" x2="176.4" y2="675.3" stroke="#b0002a" stroke-width="1.1"/>
<line x1="211.8" y1="638.1" x2="211.8" y2="681.6" stroke="#b0002a" stroke-width="1.1"/>
<line x1="210" y1="638.1" x2="213.6" y2="638.1" stroke="#b0002a" stroke-width="1.1"/>
<line x1="210" y1="681.6" x2="213.6" y2="681.6" stroke="#b0002a" stroke-width="1.1"/>
<path d="M95.1,680.1L96.9,681.9L95.1,683.7L93.3,681.9Z" fill="#b0002a"/>
<path d="M111.8,683.4L113.6,685.2L111.8,687L110,685.2Z" fill="#b0002a"/>
<path d="M121.5,662.1L123.3,663.9L121.5,665.7L119.7,663.9Z" fill="#b0002a"/>
<path d="M128.2,666.3L130,668.1L128.2,669.9L126.4,668.1Z" fill="#b0002a"/>
<path d="M146.6,654.2L148.4,656L146.6,657.8L144.8,656Z" fill="#b0002a"/>
<path d="M174.6,654.5L176.4,656.3L174.6,658.1L172.8,656.3Z" fill="#b0002a"/>
<path d="M211.8,658.2L213.6,660L211.8,661.8L210,660Z" fill="#b0002a"/>
<polyline points="95.1,683.9 111.8,685.5 121.5,671.9 128.2,673.5 146.6,671 174.6,671.9 211.8,666.9" fill="none" stroke="#1e3a82" stroke-width="1.15"/>
<line x1="95.1" y1="682" x2="95.1" y2="685.5" stroke="#1e3a82" stroke-width="1.1"/>
<line x1="93.3" y1="682" x2="96.9" y2="682" stroke="#1e3a82" stroke-width="1.1"/>
<line x1="93.3" y1="685.5" x2="96.9" y2="685.5" stroke="#1e3a82" stroke-width="1.1"/>
<line x1="121.5" y1="669.5" x2="121.5" y2="674" stroke="#1e3a82" stroke-width="1.1"/>
<line x1="119.7" y1="669.5" x2="123.3" y2="669.5" stroke="#1e3a82" stroke-width="1.1"/>
<line x1="119.7" y1="674" x2="123.3" y2="674" stroke="#1e3a82" stroke-width="1.1"/>
<line x1="128.2" y1="670" x2="128.2" y2="677" stroke="#1e3a82" stroke-width="1.1"/>
<line x1="126.4" y1="670" x2="130" y2="670" stroke="#1e3a82" stroke-width="1.1"/>
<line x1="126.4" y1="677" x2="130" y2="677" stroke="#1e3a82" stroke-width="1.1"/>
<line x1="146.6" y1="667" x2="146.6" y2="675.3" stroke="#1e3a82" stroke-width="1.1"/>
<line x1="144.8" y1="667" x2="148.4" y2="667" stroke="#1e3a82" stroke-width="1.1"/>
<line x1="144.8" y1="675.3" x2="148.4" y2="675.3" stroke="#1e3a82" stroke-width="1.1"/>
<line x1="174.6" y1="669" x2="174.6" y2="674.5" stroke="#1e3a82" stroke-width="1.1"/>
<line x1="172.8" y1="669" x2="176.4" y2="669" stroke="#1e3a82" stroke-width="1.1"/>
<line x1="172.8" y1="674.5" x2="176.4" y2="674.5" stroke="#1e3a82" stroke-width="1.1"/>
<line x1="211.8" y1="663.7" x2="211.8" y2="671.5" stroke="#1e3a82" stroke-width="1.1"/>
<line x1="210" y1="663.7" x2="213.6" y2="663.7" stroke="#1e3a82" stroke-width="1.1"/>
<line x1="210" y1="671.5" x2="213.6" y2="671.5" stroke="#1e3a82" stroke-width="1.1"/>
<path d="M93.3,682.46H96.9L95.1,686.15Z" fill="#1e3a82"/>
<path d="M110,684.06H113.6L111.8,687.75Z" fill="#1e3a82"/>
<path d="M119.7,670.46H123.3L121.5,674.15Z" fill="#1e3a82"/>
<path d="M126.4,672.06H130L128.2,675.75Z" fill="#1e3a82"/>
<path d="M144.8,669.56H148.4L146.6,673.25Z" fill="#1e3a82"/>
<path d="M172.8,670.46H176.4L174.6,674.15Z" fill="#1e3a82"/>
<path d="M210,665.46H213.6L211.8,669.15Z" fill="#1e3a82"/>
<polyline points="95.1,682.4 111.8,685.5 121.5,667.3 128.2,679.3 146.6,666.7 174.6,671.5 211.8,676.4" fill="none" stroke="#5aa832" stroke-width="1.15"/>
<line x1="95.1" y1="681" x2="95.1" y2="684" stroke="#5aa832" stroke-width="1.1"/>
<line x1="93.3" y1="681" x2="96.9" y2="681" stroke="#5aa832" stroke-width="1.1"/>
<line x1="93.3" y1="684" x2="96.9" y2="684" stroke="#5aa832" stroke-width="1.1"/>
<line x1="121.5" y1="664.5" x2="121.5" y2="670" stroke="#5aa832" stroke-width="1.1"/>
<line x1="119.7" y1="664.5" x2="123.3" y2="664.5" stroke="#5aa832" stroke-width="1.1"/>
<line x1="119.7" y1="670" x2="123.3" y2="670" stroke="#5aa832" stroke-width="1.1"/>
<line x1="128.2" y1="675.3" x2="128.2" y2="683" stroke="#5aa832" stroke-width="1.1"/>
<line x1="126.4" y1="675.3" x2="130" y2="675.3" stroke="#5aa832" stroke-width="1.1"/>
<line x1="126.4" y1="683" x2="130" y2="683" stroke="#5aa832" stroke-width="1.1"/>
<line x1="146.6" y1="662" x2="146.6" y2="671" stroke="#5aa832" stroke-width="1.1"/>
<line x1="144.8" y1="662" x2="148.4" y2="662" stroke="#5aa832" stroke-width="1.1"/>
<line x1="144.8" y1="671" x2="148.4" y2="671" stroke="#5aa832" stroke-width="1.1"/>
<line x1="174.6" y1="667.2" x2="174.6" y2="675.8" stroke="#5aa832" stroke-width="1.1"/>
<line x1="172.8" y1="667.2" x2="176.4" y2="667.2" stroke="#5aa832" stroke-width="1.1"/>
<line x1="172.8" y1="675.8" x2="176.4" y2="675.8" stroke="#5aa832" stroke-width="1.1"/>
<line x1="211.8" y1="674" x2="211.8" y2="679" stroke="#5aa832" stroke-width="1.1"/>
<line x1="210" y1="674" x2="213.6" y2="674" stroke="#5aa832" stroke-width="1.1"/>
<line x1="210" y1="679" x2="213.6" y2="679" stroke="#5aa832" stroke-width="1.1"/>
<circle cx="95.1" cy="682.4" r="1.7" fill="#5aa832"/>
<circle cx="111.8" cy="685.5" r="1.7" fill="#5aa832"/>
<circle cx="121.5" cy="667.3" r="1.7" fill="#5aa832"/>
<circle cx="128.2" cy="679.3" r="1.7" fill="#5aa832"/>
<circle cx="146.6" cy="666.7" r="1.7" fill="#5aa832"/>
<circle cx="174.6" cy="671.5" r="1.7" fill="#5aa832"/>
<circle cx="211.8" cy="676.4" r="1.7" fill="#5aa832"/>
<line x1="85.2" y1="601.8" x2="95.7" y2="601.8" stroke="#5aa832" stroke-width="1.2"/>
<circle cx="90.45" cy="601.8" r="1.6" fill="#5aa832"/>
<text x="100.2" y="605.6" font-size="10.5" textLength="38.2" lengthAdjust="spacingAndGlyphs" fill="#000">Group 1</text>
<line x1="85.2" y1="612.3" x2="95.7" y2="612.3" stroke="#1e3a82" stroke-width="1.2"/>
<path d="M88.85,611.02H92.05L90.45,614.3Z" fill="#1e3a82"/>
<text x="100.2" y="616.1" font-size="10.5" textLength="38.2" lengthAdjust="spacingAndGlyphs" fill="#000">Group 2</text>
<line x1="85.2" y1="623" x2="95.7" y2="623" stroke="#b0002a" stroke-width="1.2"/>
<path d="M90.45,621.4L92.05,623L90.45,624.6L88.85,623Z" fill="#b0002a"/>
<text x="100.2" y="626.8" font-size="10.5" textLength="38.2" lengthAdjust="spacingAndGlyphs" fill="#000">Group 3</text>
<line x1="81.3" y1="754.5" x2="81.3" y2="852.2" stroke="#000" stroke-width="1.5"/>
<line x1="80.55" y1="851.5" x2="224.2" y2="851.5" stroke="#000" stroke-width="1.5"/>
<text transform="translate(72.5,845.05) scale(1.105,1)" font-size="11" text-anchor="end" fill="#000">0</text>
<text transform="translate(72.5,824.43) scale(1.105,1)" font-size="11" text-anchor="end" fill="#000">10</text>
<text transform="translate(72.5,803.81) scale(1.105,1)" font-size="11" text-anchor="end" fill="#000">20</text>
<text transform="translate(72.5,783.19) scale(1.105,1)" font-size="11" text-anchor="end" fill="#000">30</text>
<text transform="translate(72.5,762.57) scale(1.105,1)" font-size="11" text-anchor="end" fill="#000">40</text>
<line x1="77" y1="841.25" x2="81.3" y2="841.25" stroke="#000" stroke-width="1.5"/>
<line x1="77" y1="820.63" x2="81.3" y2="820.63" stroke="#000" stroke-width="1.5"/>
<line x1="77" y1="800.01" x2="81.3" y2="800.01" stroke="#000" stroke-width="1.5"/>
<line x1="77" y1="779.39" x2="81.3" y2="779.39" stroke="#000" stroke-width="1.5"/>
<line x1="77" y1="758.77" x2="81.3" y2="758.77" stroke="#000" stroke-width="1.5"/>
<line x1="86.8" y1="851.5" x2="86.8" y2="855.8" stroke="#000" stroke-width="1.5"/>
<text transform="translate(86.8,870.2) scale(1.105,1)" font-size="11" text-anchor="middle" fill="#000">0</text>
<line x1="109.28" y1="851.5" x2="109.28" y2="855.8" stroke="#000" stroke-width="1.5"/>
<text transform="translate(109.28,870.2) scale(1.105,1)" font-size="11" text-anchor="middle" fill="#000">8</text>
<line x1="131.76" y1="851.5" x2="131.76" y2="855.8" stroke="#000" stroke-width="1.5"/>
<text transform="translate(131.76,870.2) scale(1.105,1)" font-size="11" text-anchor="middle" fill="#000">16</text>
<line x1="154.24" y1="851.5" x2="154.24" y2="855.8" stroke="#000" stroke-width="1.5"/>
<text transform="translate(154.24,870.2) scale(1.105,1)" font-size="11" text-anchor="middle" fill="#000">24</text>
<line x1="176.72" y1="851.5" x2="176.72" y2="855.8" stroke="#000" stroke-width="1.5"/>
<text transform="translate(176.72,870.2) scale(1.105,1)" font-size="11" text-anchor="middle" fill="#000">32</text>
<line x1="199.2" y1="851.5" x2="199.2" y2="855.8" stroke="#000" stroke-width="1.5"/>
<text transform="translate(199.2,870.2) scale(1.105,1)" font-size="11" text-anchor="middle" fill="#000">40</text>
<line x1="221.68" y1="851.5" x2="221.68" y2="855.8" stroke="#000" stroke-width="1.5"/>
<text transform="translate(221.68,870.2) scale(1.105,1)" font-size="11" text-anchor="middle" fill="#000">48</text>
<text x="153" y="888.8" font-size="13" text-anchor="middle" stroke="#000" stroke-width="0.45" textLength="96.9" lengthAdjust="spacingAndGlyphs" fill="#000">Time post dose (hours)</text>
<text transform="translate(51,802.9) rotate(-90)" font-size="13" text-anchor="middle" stroke="#000" stroke-width="0.45" textLength="65.8" lengthAdjust="spacingAndGlyphs" fill="#000">[IFN&#947;] (pg/mL)</text>
<polyline points="86.8,835.6 98.04,835.6 109.28,837.6 154.24,835.8 165.48,804.7 176.72,827.2 221.68,837.3" fill="none" stroke="#b0002a" stroke-width="1.15"/>
<line x1="109.28" y1="834.5" x2="109.28" y2="840.5" stroke="#b0002a" stroke-width="1.1"/>
<line x1="107.48" y1="834.5" x2="111.08" y2="834.5" stroke="#b0002a" stroke-width="1.1"/>
<line x1="107.48" y1="840.5" x2="111.08" y2="840.5" stroke="#b0002a" stroke-width="1.1"/>
<line x1="154.24" y1="831.5" x2="154.24" y2="838.5" stroke="#b0002a" stroke-width="1.1"/>
<line x1="152.44" y1="831.5" x2="156.04" y2="831.5" stroke="#b0002a" stroke-width="1.1"/>
<line x1="152.44" y1="838.5" x2="156.04" y2="838.5" stroke="#b0002a" stroke-width="1.1"/>
<line x1="165.48" y1="768.3" x2="165.48" y2="838.7" stroke="#b0002a" stroke-width="1.1"/>
<line x1="163.68" y1="768.3" x2="167.28" y2="768.3" stroke="#b0002a" stroke-width="1.1"/>
<line x1="163.68" y1="838.7" x2="167.28" y2="838.7" stroke="#b0002a" stroke-width="1.1"/>
<line x1="176.72" y1="813.7" x2="176.72" y2="840.5" stroke="#b0002a" stroke-width="1.1"/>
<line x1="174.92" y1="813.7" x2="178.52" y2="813.7" stroke="#b0002a" stroke-width="1.1"/>
<line x1="174.92" y1="840.5" x2="178.52" y2="840.5" stroke="#b0002a" stroke-width="1.1"/>
<line x1="221.68" y1="835.3" x2="221.68" y2="839.6" stroke="#b0002a" stroke-width="1.1"/>
<line x1="219.88" y1="835.3" x2="223.48" y2="835.3" stroke="#b0002a" stroke-width="1.1"/>
<line x1="219.88" y1="839.6" x2="223.48" y2="839.6" stroke="#b0002a" stroke-width="1.1"/>
<path d="M86.8,833.8L88.6,835.6L86.8,837.4L85,835.6Z" fill="#b0002a"/>
<path d="M98.04,833.8L99.84,835.6L98.04,837.4L96.24,835.6Z" fill="#b0002a"/>
<path d="M109.28,835.8L111.08,837.6L109.28,839.4L107.48,837.6Z" fill="#b0002a"/>
<path d="M154.24,834L156.04,835.8L154.24,837.6L152.44,835.8Z" fill="#b0002a"/>
<path d="M165.48,802.9L167.28,804.7L165.48,806.5L163.68,804.7Z" fill="#b0002a"/>
<path d="M176.72,825.4L178.52,827.2L176.72,829L174.92,827.2Z" fill="#b0002a"/>
<path d="M221.68,835.5L223.48,837.3L221.68,839.1L219.88,837.3Z" fill="#b0002a"/>
<polyline points="86.8,835 98.04,836 109.28,836.5 154.24,836.2 165.48,834.8 176.72,837.5 221.68,838.2" fill="none" stroke="#1e3a82" stroke-width="1.15"/>
<line x1="86.8" y1="831.8" x2="86.8" y2="840.5" stroke="#1e3a82" stroke-width="1.1"/>
<line x1="85" y1="831.8" x2="88.6" y2="831.8" stroke="#1e3a82" stroke-width="1.1"/>
<line x1="85" y1="840.5" x2="88.6" y2="840.5" stroke="#1e3a82" stroke-width="1.1"/>
<line x1="98.04" y1="832" x2="98.04" y2="839" stroke="#1e3a82" stroke-width="1.1"/>
<line x1="96.24" y1="832" x2="99.84" y2="832" stroke="#1e3a82" stroke-width="1.1"/>
<line x1="96.24" y1="839" x2="99.84" y2="839" stroke="#1e3a82" stroke-width="1.1"/>
<line x1="109.28" y1="833.3" x2="109.28" y2="839.6" stroke="#1e3a82" stroke-width="1.1"/>
<line x1="107.48" y1="833.3" x2="111.08" y2="833.3" stroke="#1e3a82" stroke-width="1.1"/>
<line x1="107.48" y1="839.6" x2="111.08" y2="839.6" stroke="#1e3a82" stroke-width="1.1"/>
<line x1="154.24" y1="831.5" x2="154.24" y2="840.5" stroke="#1e3a82" stroke-width="1.1"/>
<line x1="152.44" y1="831.5" x2="156.04" y2="831.5" stroke="#1e3a82" stroke-width="1.1"/>
<line x1="152.44" y1="840.5" x2="156.04" y2="840.5" stroke="#1e3a82" stroke-width="1.1"/>
<line x1="165.48" y1="831.3" x2="165.48" y2="839" stroke="#1e3a82" stroke-width="1.1"/>
<line x1="163.68" y1="831.3" x2="167.28" y2="831.3" stroke="#1e3a82" stroke-width="1.1"/>
<line x1="163.68" y1="839" x2="167.28" y2="839" stroke="#1e3a82" stroke-width="1.1"/>
<line x1="176.72" y1="834.5" x2="176.72" y2="840" stroke="#1e3a82" stroke-width="1.1"/>
<line x1="174.92" y1="834.5" x2="178.52" y2="834.5" stroke="#1e3a82" stroke-width="1.1"/>
<line x1="174.92" y1="840" x2="178.52" y2="840" stroke="#1e3a82" stroke-width="1.1"/>
<line x1="221.68" y1="836" x2="221.68" y2="840" stroke="#1e3a82" stroke-width="1.1"/>
<line x1="219.88" y1="836" x2="223.48" y2="836" stroke="#1e3a82" stroke-width="1.1"/>
<line x1="219.88" y1="840" x2="223.48" y2="840" stroke="#1e3a82" stroke-width="1.1"/>
<path d="M85,833.56H88.6L86.8,837.25Z" fill="#1e3a82"/>
<path d="M96.24,834.56H99.84L98.04,838.25Z" fill="#1e3a82"/>
<path d="M107.48,835.06H111.08L109.28,838.75Z" fill="#1e3a82"/>
<path d="M152.44,834.76H156.04L154.24,838.45Z" fill="#1e3a82"/>
<path d="M163.68,833.36H167.28L165.48,837.05Z" fill="#1e3a82"/>
<path d="M174.92,836.06H178.52L176.72,839.75Z" fill="#1e3a82"/>
<path d="M219.88,836.76H223.48L221.68,840.45Z" fill="#1e3a82"/>
<polyline points="86.8,835.6 98.04,835.6 109.28,838 154.24,838.5 165.48,838.7 176.72,839 221.68,839" fill="none" stroke="#5aa832" stroke-width="1.15"/>
<line x1="86.8" y1="832" x2="86.8" y2="839" stroke="#5aa832" stroke-width="1.1"/>
<line x1="85" y1="832" x2="88.6" y2="832" stroke="#5aa832" stroke-width="1.1"/>
<line x1="85" y1="839" x2="88.6" y2="839" stroke="#5aa832" stroke-width="1.1"/>
<line x1="98.04" y1="832" x2="98.04" y2="839" stroke="#5aa832" stroke-width="1.1"/>
<line x1="96.24" y1="832" x2="99.84" y2="832" stroke="#5aa832" stroke-width="1.1"/>
<line x1="96.24" y1="839" x2="99.84" y2="839" stroke="#5aa832" stroke-width="1.1"/>
<circle cx="86.8" cy="835.6" r="1.7" fill="#5aa832"/>
<circle cx="98.04" cy="835.6" r="1.7" fill="#5aa832"/>
<circle cx="109.28" cy="838" r="1.7" fill="#5aa832"/>
<circle cx="154.24" cy="838.5" r="1.7" fill="#5aa832"/>
<circle cx="165.48" cy="838.7" r="1.7" fill="#5aa832"/>
<circle cx="176.72" cy="839" r="1.7" fill="#5aa832"/>
<circle cx="221.68" cy="839" r="1.7" fill="#5aa832"/>
<line x1="85.2" y1="765.5" x2="95.7" y2="765.5" stroke="#5aa832" stroke-width="1.2"/>
<circle cx="90.45" cy="765.5" r="1.6" fill="#5aa832"/>
<text x="100.2" y="769.3" font-size="10.5" textLength="38.2" lengthAdjust="spacingAndGlyphs" fill="#000">Group 1</text>
<line x1="85.2" y1="775.6" x2="95.7" y2="775.6" stroke="#1e3a82" stroke-width="1.2"/>
<path d="M88.85,774.32H92.05L90.45,777.6Z" fill="#1e3a82"/>
<text x="100.2" y="779.4" font-size="10.5" textLength="38.2" lengthAdjust="spacingAndGlyphs" fill="#000">Group 2</text>
<line x1="85.2" y1="786.5" x2="95.7" y2="786.5" stroke="#b0002a" stroke-width="1.2"/>
<path d="M90.45,784.9L92.05,786.5L90.45,788.1L88.85,786.5Z" fill="#b0002a"/>
<text x="100.2" y="790.3" font-size="10.5" textLength="38.2" lengthAdjust="spacingAndGlyphs" fill="#000">Group 3</text>
<line x1="325.2" y1="755" x2="325.2" y2="852.1" stroke="#000" stroke-width="1.5"/>
<line x1="324.45" y1="851.4" x2="463" y2="851.4" stroke="#000" stroke-width="1.5"/>
<text transform="translate(317.8,846.5) scale(1.105,1)" font-size="11" text-anchor="end" fill="#000">0</text>
<text transform="translate(317.8,825.5) scale(1.105,1)" font-size="11" text-anchor="end" fill="#000">10000</text>
<text transform="translate(317.8,804.5) scale(1.105,1)" font-size="11" text-anchor="end" fill="#000">20000</text>
<text transform="translate(317.8,783.5) scale(1.105,1)" font-size="11" text-anchor="end" fill="#000">30000</text>
<text transform="translate(317.8,762.5) scale(1.105,1)" font-size="11" text-anchor="end" fill="#000">40000</text>
<line x1="321" y1="842.7" x2="325.2" y2="842.7" stroke="#000" stroke-width="1.5"/>
<line x1="321" y1="821.7" x2="325.2" y2="821.7" stroke="#000" stroke-width="1.5"/>
<line x1="321" y1="800.7" x2="325.2" y2="800.7" stroke="#000" stroke-width="1.5"/>
<line x1="321" y1="779.7" x2="325.2" y2="779.7" stroke="#000" stroke-width="1.5"/>
<line x1="321" y1="758.7" x2="325.2" y2="758.7" stroke="#000" stroke-width="1.5"/>
<line x1="330.8" y1="851.4" x2="330.8" y2="855.7" stroke="#000" stroke-width="1.5"/>
<text transform="translate(330.8,870.5) scale(1.105,1)" font-size="11" text-anchor="middle" fill="#000">0</text>
<line x1="352.4" y1="851.4" x2="352.4" y2="855.7" stroke="#000" stroke-width="1.5"/>
<text transform="translate(352.4,870.5) scale(1.105,1)" font-size="11" text-anchor="middle" fill="#000">8</text>
<line x1="374" y1="851.4" x2="374" y2="855.7" stroke="#000" stroke-width="1.5"/>
<text transform="translate(374,870.5) scale(1.105,1)" font-size="11" text-anchor="middle" fill="#000">16</text>
<line x1="395.6" y1="851.4" x2="395.6" y2="855.7" stroke="#000" stroke-width="1.5"/>
<text transform="translate(395.6,870.5) scale(1.105,1)" font-size="11" text-anchor="middle" fill="#000">24</text>
<line x1="417.2" y1="851.4" x2="417.2" y2="855.7" stroke="#000" stroke-width="1.5"/>
<text transform="translate(417.2,870.5) scale(1.105,1)" font-size="11" text-anchor="middle" fill="#000">32</text>
<line x1="438.8" y1="851.4" x2="438.8" y2="855.7" stroke="#000" stroke-width="1.5"/>
<text transform="translate(438.8,870.5) scale(1.105,1)" font-size="11" text-anchor="middle" fill="#000">40</text>
<line x1="460.4" y1="851.4" x2="460.4" y2="855.7" stroke="#000" stroke-width="1.5"/>
<text transform="translate(460.4,870.5) scale(1.105,1)" font-size="11" text-anchor="middle" fill="#000">48</text>
<text x="394.6" y="889" font-size="13" text-anchor="middle" stroke="#000" stroke-width="0.45" textLength="96.9" lengthAdjust="spacingAndGlyphs" fill="#000">Time post dose (hours)</text>
<text transform="translate(274.7,802.6) rotate(-90)" font-size="13" text-anchor="middle" stroke="#000" stroke-width="0.45" textLength="74.2" lengthAdjust="spacingAndGlyphs" fill="#000">[MCP-1] (pg/mL)</text>
<polyline points="330.8,841.5 341.6,842.5 352.4,840.6 395.6,841.5 406.4,813.2 417.2,835.4 460.4,841.5" fill="none" stroke="#b0002a" stroke-width="1.15"/>
<line x1="352.4" y1="837.5" x2="352.4" y2="843.5" stroke="#b0002a" stroke-width="1.1"/>
<line x1="350.6" y1="837.5" x2="354.2" y2="837.5" stroke="#b0002a" stroke-width="1.1"/>
<line x1="350.6" y1="843.5" x2="354.2" y2="843.5" stroke="#b0002a" stroke-width="1.1"/>
<line x1="406.4" y1="780" x2="406.4" y2="846.2" stroke="#b0002a" stroke-width="1.1"/>
<line x1="404.6" y1="780" x2="408.2" y2="780" stroke="#b0002a" stroke-width="1.1"/>
<line x1="404.6" y1="846.2" x2="408.2" y2="846.2" stroke="#b0002a" stroke-width="1.1"/>
<line x1="417.2" y1="831.7" x2="417.2" y2="839" stroke="#b0002a" stroke-width="1.1"/>
<line x1="415.4" y1="831.7" x2="419" y2="831.7" stroke="#b0002a" stroke-width="1.1"/>
<line x1="415.4" y1="839" x2="419" y2="839" stroke="#b0002a" stroke-width="1.1"/>
<path d="M330.8,839.7L332.6,841.5L330.8,843.3L329,841.5Z" fill="#b0002a"/>
<path d="M341.6,840.7L343.4,842.5L341.6,844.3L339.8,842.5Z" fill="#b0002a"/>
<path d="M352.4,838.8L354.2,840.6L352.4,842.4L350.6,840.6Z" fill="#b0002a"/>
<path d="M395.6,839.7L397.4,841.5L395.6,843.3L393.8,841.5Z" fill="#b0002a"/>
<path d="M406.4,811.4L408.2,813.2L406.4,815L404.6,813.2Z" fill="#b0002a"/>
<path d="M417.2,833.6L419,835.4L417.2,837.2L415.4,835.4Z" fill="#b0002a"/>
<path d="M460.4,839.7L462.2,841.5L460.4,843.3L458.6,841.5Z" fill="#b0002a"/>
<polyline points="330.8,841.5 341.6,840 352.4,838.5 395.6,841 406.4,835.4 417.2,837 460.4,841.5" fill="none" stroke="#1e3a82" stroke-width="1.15"/>
<path d="M329,840.06H332.6L330.8,843.75Z" fill="#1e3a82"/>
<path d="M339.8,838.56H343.4L341.6,842.25Z" fill="#1e3a82"/>
<path d="M350.6,837.06H354.2L352.4,840.75Z" fill="#1e3a82"/>
<path d="M393.8,839.56H397.4L395.6,843.25Z" fill="#1e3a82"/>
<path d="M404.6,833.96H408.2L406.4,837.65Z" fill="#1e3a82"/>
<path d="M415.4,835.56H419L417.2,839.25Z" fill="#1e3a82"/>
<path d="M458.6,840.06H462.2L460.4,843.75Z" fill="#1e3a82"/>
<polyline points="330.8,840.6 341.6,833.8 352.4,836 395.6,838.5 406.4,836.3 417.2,837.5 460.4,840" fill="none" stroke="#5aa832" stroke-width="1.15"/>
<line x1="341.6" y1="830.8" x2="341.6" y2="836.9" stroke="#5aa832" stroke-width="1.1"/>
<line x1="339.8" y1="830.8" x2="343.4" y2="830.8" stroke="#5aa832" stroke-width="1.1"/>
<line x1="339.8" y1="836.9" x2="343.4" y2="836.9" stroke="#5aa832" stroke-width="1.1"/>
<line x1="352.4" y1="834" x2="352.4" y2="838" stroke="#5aa832" stroke-width="1.1"/>
<line x1="350.6" y1="834" x2="354.2" y2="834" stroke="#5aa832" stroke-width="1.1"/>
<line x1="350.6" y1="838" x2="354.2" y2="838" stroke="#5aa832" stroke-width="1.1"/>
<line x1="395.6" y1="836" x2="395.6" y2="840.5" stroke="#5aa832" stroke-width="1.1"/>
<line x1="393.8" y1="836" x2="397.4" y2="836" stroke="#5aa832" stroke-width="1.1"/>
<line x1="393.8" y1="840.5" x2="397.4" y2="840.5" stroke="#5aa832" stroke-width="1.1"/>
<line x1="417.2" y1="834" x2="417.2" y2="841" stroke="#5aa832" stroke-width="1.1"/>
<line x1="415.4" y1="834" x2="419" y2="834" stroke="#5aa832" stroke-width="1.1"/>
<line x1="415.4" y1="841" x2="419" y2="841" stroke="#5aa832" stroke-width="1.1"/>
<circle cx="330.8" cy="840.6" r="1.7" fill="#5aa832"/>
<circle cx="341.6" cy="833.8" r="1.7" fill="#5aa832"/>
<circle cx="352.4" cy="836" r="1.7" fill="#5aa832"/>
<circle cx="395.6" cy="838.5" r="1.7" fill="#5aa832"/>
<circle cx="406.4" cy="836.3" r="1.7" fill="#5aa832"/>
<circle cx="417.2" cy="837.5" r="1.7" fill="#5aa832"/>
<circle cx="460.4" cy="840" r="1.7" fill="#5aa832"/>
<line x1="329.2" y1="765.2" x2="339.7" y2="765.2" stroke="#5aa832" stroke-width="1.2"/>
<circle cx="334.45" cy="765.2" r="1.6" fill="#5aa832"/>
<text x="343.7" y="769" font-size="10.5" textLength="38.2" lengthAdjust="spacingAndGlyphs" fill="#000">Group 1</text>
<line x1="329.2" y1="775.6" x2="339.7" y2="775.6" stroke="#1e3a82" stroke-width="1.2"/>
<path d="M332.85,774.32H336.05L334.45,777.6Z" fill="#1e3a82"/>
<text x="343.7" y="779.4" font-size="10.5" textLength="38.2" lengthAdjust="spacingAndGlyphs" fill="#000">Group 2</text>
<line x1="329.2" y1="786.4" x2="339.7" y2="786.4" stroke="#b0002a" stroke-width="1.2"/>
<path d="M334.45,784.8L336.05,786.4L334.45,788L332.85,786.4Z" fill="#b0002a"/>
<text x="343.7" y="790.2" font-size="10.5" textLength="38.2" lengthAdjust="spacingAndGlyphs" fill="#000">Group 3</text>
</svg>
</body></html>
